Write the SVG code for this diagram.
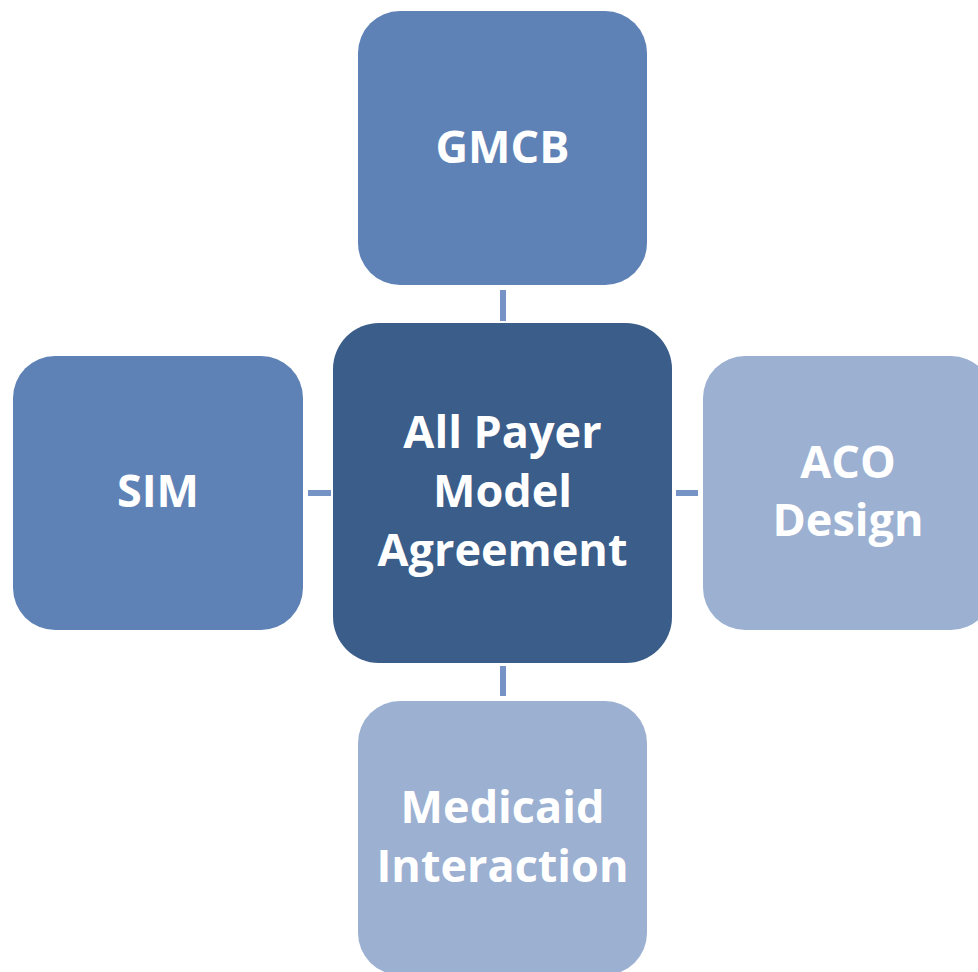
<svg xmlns="http://www.w3.org/2000/svg" width="978" height="972" viewBox="0 0 978 972">
  <style>
    .mid { fill: #5F82B6; }
    .hub { fill: #3A5D8A; }
    .pale { fill: #9CB0D2; }
    .link { fill: #7593C5; }
    .label { font-family: "Open Sans", "Noto Sans", "Liberation Sans", sans-serif; font-weight: 700; font-size: 45px; fill: #FFFFFF; text-anchor: middle; }
  </style>
  <rect width="978" height="972" fill="#FFFFFF"/>

  <!-- short bars joining the hub to each outer box -->
  <g id="connectors">
    <rect class="link" x="500" y="290" width="6" height="31"/>
    <rect class="link" x="308" y="490" width="23" height="6"/>
    <rect class="link" x="676" y="490" width="22" height="6"/>
    <rect class="link" x="500" y="666" width="6" height="30"/>
  </g>

  <g id="gmcb">
    <rect class="mid" x="358" y="11" width="289" height="274" rx="42" ry="42"/>
    <text class="label" x="502.5" y="163">GMCB</text>
  </g>

  <g id="sim">
    <rect class="mid" x="13" y="356" width="290" height="274" rx="42" ry="42"/>
    <text class="label" x="158" y="507">SIM</text>
  </g>

  <g id="all-payer">
    <rect class="hub" x="333" y="323" width="339" height="340" rx="46" ry="46"/>
    <text class="label" x="502.5" y="448">All Payer</text>
    <text class="label" x="502.5" y="507">Model</text>
    <text class="label" x="502.5" y="566">Agreement</text>
  </g>

  <g id="aco-design">
    <rect class="pale" x="703" y="356" width="290" height="274" rx="42" ry="42"/>
    <text class="label" x="848" y="478">ACO</text>
    <text class="label" x="848" y="536">Design</text>
  </g>

  <g id="medicaid">
    <rect class="pale" x="358" y="701" width="289" height="274" rx="42" ry="42"/>
    <text class="label" x="502.5" y="823">Medicaid</text>
    <text class="label" x="502.5" y="882">Interaction</text>
  </g>
</svg>
